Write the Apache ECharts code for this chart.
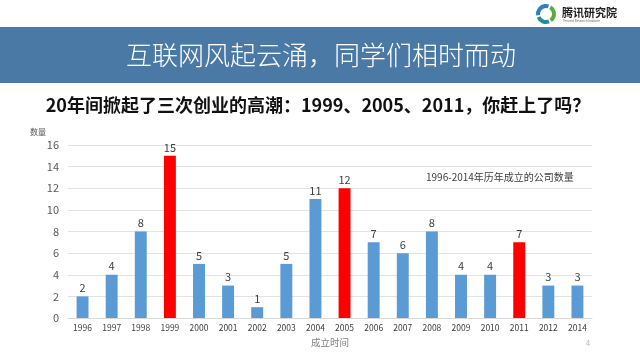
<!DOCTYPE html>
<html>
<head>
<meta charset="utf-8">
<script src="https://cdn.jsdelivr.net/npm/echarts@6/dist/echarts.min.js"></script>
<style>
html,body{margin:0;padding:0;background:#fff;}
#c{width:640px;height:360px;}
</style>
</head>
<body>
<div id="c"></div>
<script>
var years = ['1996','1997','1998','1999','2000','2001','2002','2003','2004','2005','2006','2007','2008','2009','2010','2011','2012','2014'];
var counts = [2,4,8,15,5,3,1,5,11,12,7,6,8,4,4,7,3,3];
var highlightYears = ['1999','2005','2011'];
var yTicks = [0,2,4,6,8,10,12,14,16];
var seriesName = '1996-2014年历年成立的公司数量';
var pageTitle = '互联网风起云涌，同学们相时而动';
var subTitle = '20年间掀起了三次创业的高潮：1999、2005、2011，你赶上了吗？';

var FONT = '"Noto Sans CJK SC", "Noto Sans", sans-serif';
var chart = echarts.init(document.getElementById('c'), null, {renderer:'canvas'});

var barData = years.map(function(y, i){
  return {
    value: counts[i],
    itemStyle: {color: highlightYears.indexOf(y) >= 0 ? '#ff0000' : '#5b9bd5'}
  };
});

chart.setOption({
  backgroundColor: '#ffffff',
  animation: false,
  textStyle: {fontFamily: FONT},
  grid: {left: 68, right: 48, top: 145, bottom: 42, containLabel: false},
  legend: {
    data: [seriesName],
    icon: 'none',
    itemWidth: 0,
    itemGap: 0,
    padding: 0,
    left: 421,
    top: 170,
    selectedMode: false,
    textStyle: {fontSize: 10, color: '#404040', fontFamily: FONT}
  },
  xAxis: {
    type: 'category',
    data: years,
    axisLine: {lineStyle: {color: '#d9d9d9'}},
    axisTick: {show: false},
    axisLabel: {fontSize: 8.5, color: '#404040', margin: 6, interval: 0},
    name: '成立时间',
    nameLocation: 'middle',
    nameGap: 20,
    nameTextStyle: {fontSize: 9.5, color: '#7f7f7f', padding: [0,0,0,0]}
  },
  yAxis: {
    type: 'value',
    min: yTicks[0],
    max: yTicks[yTicks.length-1],
    interval: 2,
    axisLine: {show: false},
    axisTick: {show: false},
    axisLabel: {fontSize: 11, color: '#595959', margin: 9},
    splitLine: {lineStyle: {color: '#e3e3e3'}},
    name: '数量',
    nameLocation: 'end',
    nameGap: 9,
    nameTextStyle: {fontSize: 8, color: '#595959', align: 'right', padding: [0, 22, 0, 0]}
  },
  series: [{
    name: seriesName,
    type: 'bar',
    data: barData,
    barWidth: '41%',
    itemStyle: {color: '#5b9bd5'},
    label: {show: true, position: 'top', fontSize: 11, color: '#404040', distance: 3}
  }],
  graphic: [
    {type: 'rect', shape: {x: 0, y: 27, width: 640, height: 56}, style: {fill: '#4a79a6'}, z: -1},
    {type: 'text', style: {text: pageTitle, x: 321, y: 55, align: 'center', verticalAlign: 'middle', fill: '#ffffff', font: '300 26px ' + FONT}},
    {type: 'text', style: {text: subTitle, x: 318, y: 105, align: 'center', verticalAlign: 'middle', fill: '#111111', font: 'bold 18px ' + FONT}},
    {type: 'sector', shape: {cx: 546, cy: 14, r: 10, r0: 6, startAngle: Math.PI*0.95, endAngle: Math.PI*1.6}, style: {fill: '#2f7fc1'}},
    {type: 'sector', shape: {cx: 546, cy: 14, r: 10, r0: 6, startAngle: Math.PI*1.68, endAngle: Math.PI*2.3}, style: {fill: '#5aaa3c'}},
    {type: 'sector', shape: {cx: 546, cy: 14, r: 10, r0: 6, startAngle: Math.PI*0.38, endAngle: Math.PI*0.88}, style: {fill: '#1f8f9a'}},
    {type: 'text', style: {text: '腾讯研究院', x: 562, y: 13, verticalAlign: 'middle', fill: '#222222', font: 'bold 11px ' + FONT}},
    {type: 'text', style: {text: 'Tencent Research Institute', x: 563, y: 21, verticalAlign: 'middle', fill: '#666666', font: '3px ' + FONT}},
    {type: 'text', style: {text: '4', x: 588, y: 343, align: 'center', verticalAlign: 'middle', fill: '#bbbbbb', font: '8px ' + FONT}}
  ]
});
</script>
</body>
</html>
